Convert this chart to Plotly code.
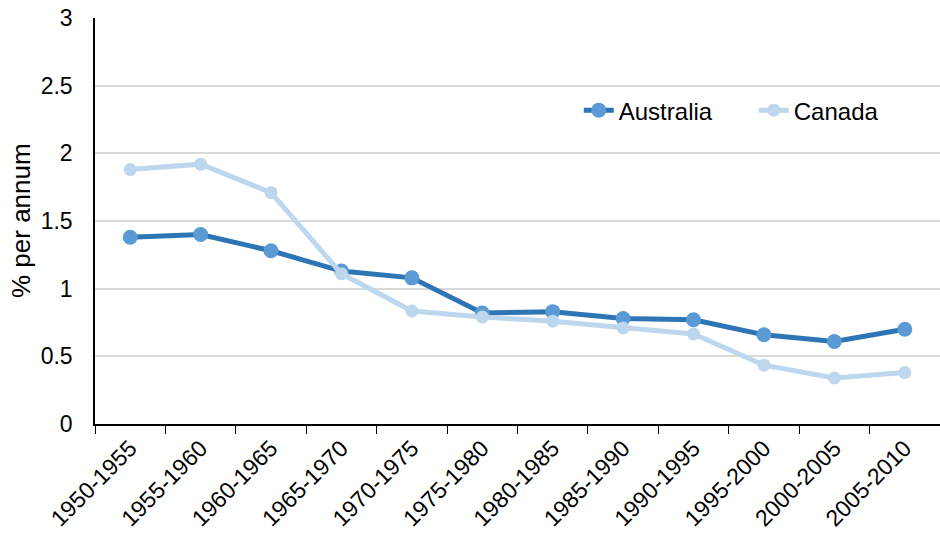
import plotly.graph_objects as go

periods = ["1950-1955", "1955-1960", "1960-1965", "1965-1970", "1970-1975", "1975-1980",
           "1980-1985", "1985-1990", "1990-1995", "1995-2000", "2000-2005", "2005-2010"]
australia = [1.38, 1.40, 1.28, 1.13, 1.08, 0.82, 0.83, 0.78, 0.77, 0.66, 0.61, 0.70]
canada = [1.88, 1.92, 1.71, 1.11, 0.835, 0.79, 0.76, 0.71, 0.665, 0.435, 0.34, 0.38]
y_ticks = [0, 0.5, 1, 1.5, 2, 2.5, 3]
y_ticktext = ["0", "0.5", "1", "1.5", "2", "2.5", "3"]
y_title = "% per annum"

fig = go.Figure()
fig.add_trace(go.Scatter(x=periods, y=australia, name="Australia", mode="lines+markers",
                         line=dict(color="#2E75B6", width=5),
                         marker=dict(color="#5B9BD5", size=15)))
fig.add_trace(go.Scatter(x=periods, y=canada, name="Canada", mode="lines+markers",
                         line=dict(color="#BDD7EE", width=5),
                         marker=dict(color="#BDD7EE", size=13)))

fig.add_annotation(text=y_title, xref="paper", yref="paper", x=0, y=0.5,
                   xanchor="center", yanchor="middle", xshift=-74, textangle=-90,
                   showarrow=False, font=dict(size=26))

fig.update_layout(
    width=940, height=536,
    margin=dict(l=95, r=0, t=18, b=112, autoexpand=False),
    plot_bgcolor="white", paper_bgcolor="white",
    font=dict(family="Liberation Sans, Arial", size=22, color="black"),
    showlegend=True,
    legend=dict(orientation="h", x=0.5725, y=0.772, xanchor="left", yanchor="middle",
                font=dict(size=24), bgcolor="rgba(0,0,0,0)",
                entrywidth=130, entrywidthmode="pixels"),
    xaxis=dict(type="category", range=[-0.5, 11.5], tickangle=-45, automargin=False,
               showline=True, linecolor="black", linewidth=1.5,
               ticks="outside", ticklen=8, tickcolor="black", tickson="boundaries",
               showgrid=False, tickfont=dict(size=23), ticklabeloverflow="allow"),
    yaxis=dict(range=[0, 3], tickvals=y_ticks, ticktext=y_ticktext, automargin=False,
               showline=True, linecolor="black", linewidth=1.5,
               showgrid=True, gridcolor="#D9D9D9", gridwidth=1.5,
               zeroline=False, ticks="", ticklabelstandoff=16, ticklabeloverflow="allow",
               tickfont=dict(size=23)),
)

fig.write_html("out.html", config={"displayModeBar": False},
               post_script="document.body.style.margin='0';document.body.style.overflow='hidden';")
